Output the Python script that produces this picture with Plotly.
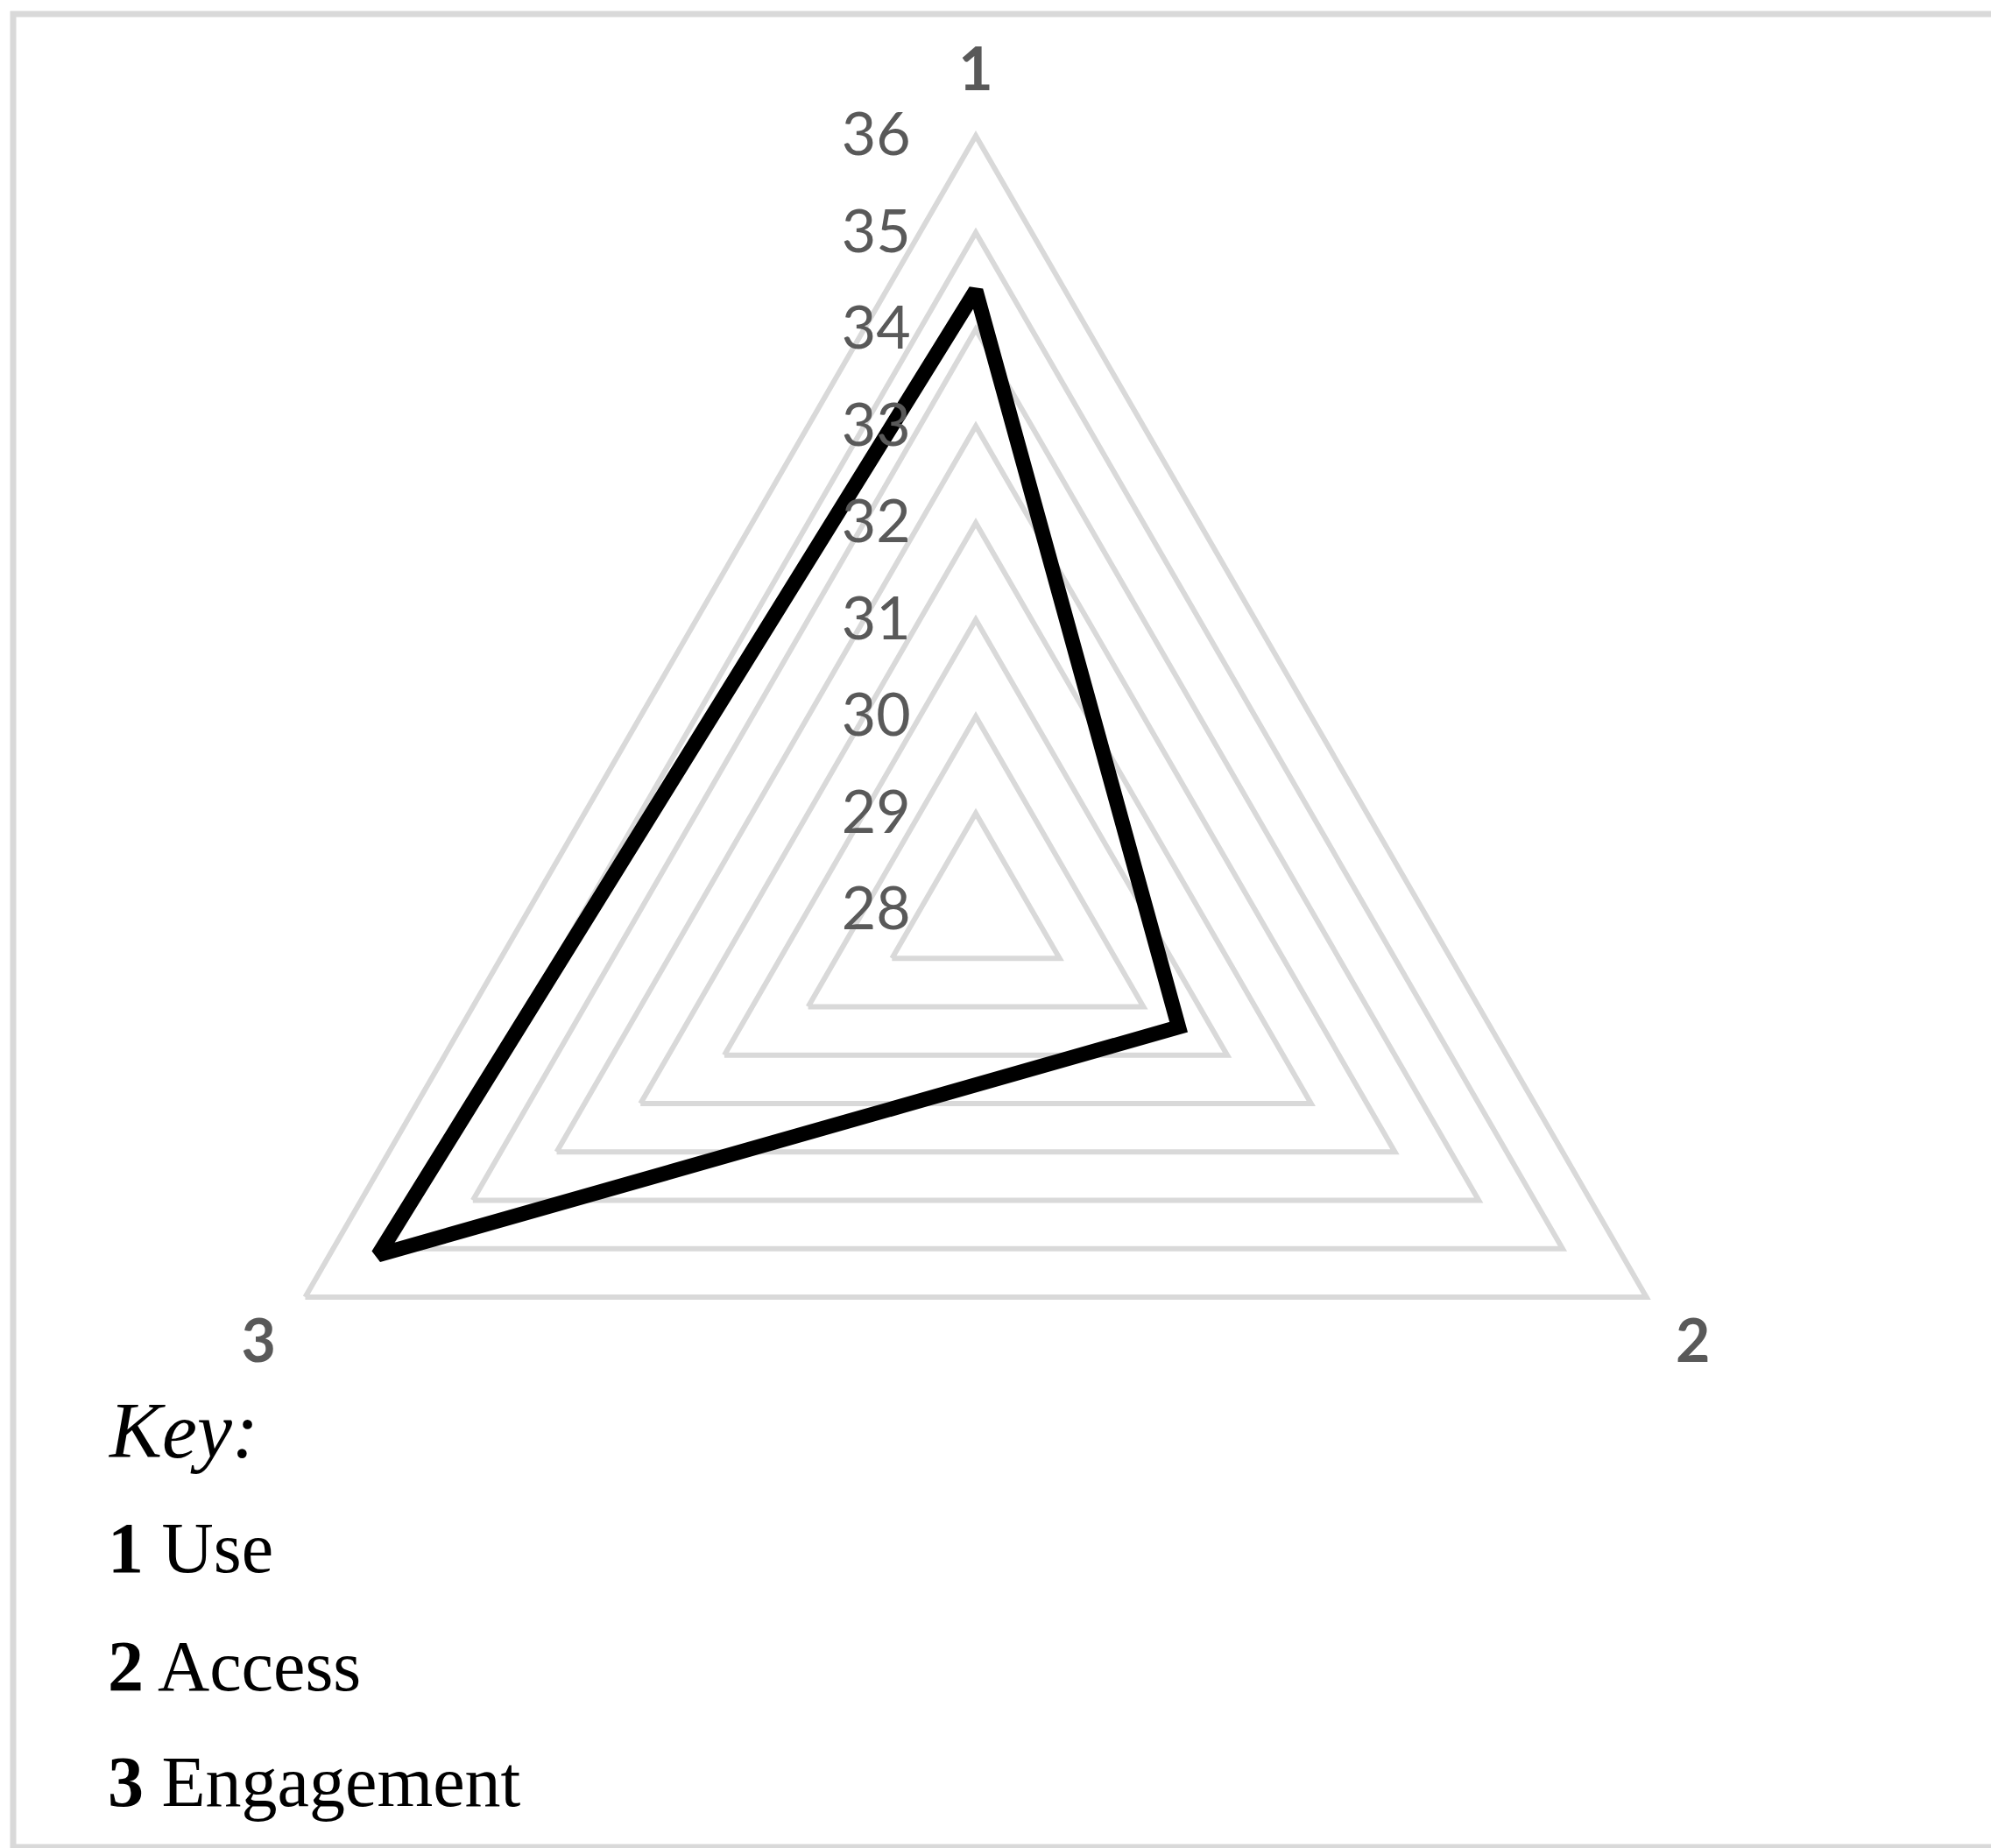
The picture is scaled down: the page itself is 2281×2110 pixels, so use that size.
import plotly.graph_objects as go

# ---- data ----
categories = ["1", "2", "3"]
values = [34.4, 30.42, 35.13]
radial_ticks = [28, 29, 30, 31, 32, 33, 34, 35, 36]
key_numbers = ["1", "2", "3"]
key_names = ["Use", "Access", "Engagement"]

W, H = 2281, 2110
GRID = "#d9d9d9"
TXT = "#595959"

# closed path (wrap to first two points so every corner gets a join)
r_path = values + values[:2]
t_path = categories + categories[:2]

fig = go.Figure()
fig.add_trace(go.Scatterpolar(
    r=r_path, theta=t_path, mode="lines",
    line=dict(color="black", width=17),
    hoverinfo="skip", showlegend=False,
))

cx, cy, R = 1106, 1031, 884
fig.update_layout(
    width=W, height=H,
    margin=dict(l=0, r=0, t=0, b=0),
    paper_bgcolor="white",
    showlegend=False,
    polar=dict(
        domain=dict(x=[(cx - R) / W, (cx + R) / W],
                    y=[(H - cy - R) / H, (H - cy + R) / H]),
        gridshape="linear",
        bgcolor="white",
        radialaxis=dict(
            range=[28, 36], tickvals=radial_ticks,
            ticktext=[str(v) for v in radial_ticks],
            angle=90, tickangle=90, side="counterclockwise",
            showline=False, gridcolor=GRID, gridwidth=6,
            ticks="outside", ticklen=50, tickcolor="rgba(0,0,0,0)",
            tickfont=dict(family="Lato", size=68, color=TXT),
        ),
        angularaxis=dict(
            type="category", categoryarray=categories,
            rotation=90, direction="clockwise",
            showgrid=False, showline=True, linecolor=GRID, linewidth=6,
            ticks="outside", ticklen=22, tickcolor="rgba(0,0,0,0)",
            tickfont=dict(family="Lato", size=68, color=TXT, weight="bold"),
        ),
    ),
)

# frame
fig.add_shape(type="rect", xref="paper", yref="paper",
              x0=7 / W, x1=2269 / W, y0=1 - 2101 / H, y1=1 - 8 / H,
              line=dict(color=GRID, width=7), fillcolor="rgba(0,0,0,0)")

# key
KX = 113 / W
fig.add_annotation(x=KX, y=1 - 1625 / H, xref="paper", yref="paper",
                   text="<i>Key:</i>", showarrow=False, xanchor="left", yanchor="middle",
                   font=dict(family="Liberation Serif", size=90, color="black"))
baselines = [1786, 1921, 2053]
for num, name, b in zip(key_numbers, key_names, baselines):
    fig.add_annotation(x=KX, y=1 - (b - 27) / H, xref="paper", yref="paper",
                       text=f"<b>{num}</b> {name}", showarrow=False,
                       xanchor="left", yanchor="middle",
                       font=dict(family="Liberation Serif", size=82, color="black"))

fig.write_html("out.html")
